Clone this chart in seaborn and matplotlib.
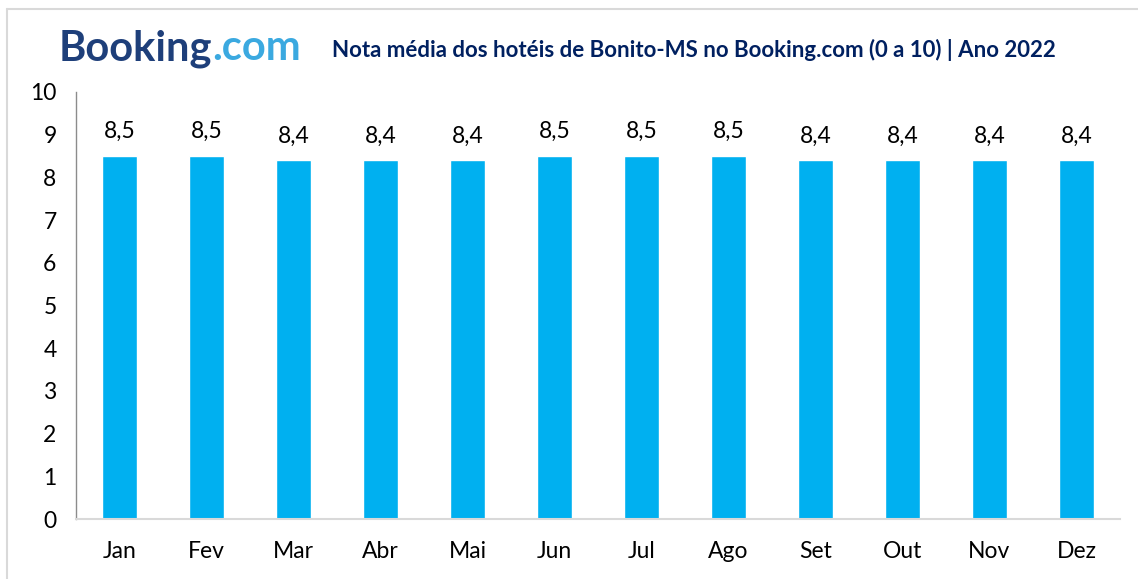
import matplotlib
matplotlib.use("Agg")
import matplotlib.pyplot as plt
import seaborn as sns
import pandas as pd
import numpy as np

months = ["Jan", "Fev", "Mar", "Abr", "Mai", "Jun", "Jul", "Ago", "Set", "Out", "Nov", "Dez"]
scores = [8.5, 8.5, 8.4, 8.4, 8.4, 8.5, 8.5, 8.5, 8.4, 8.4, 8.4, 8.4]
yticks = [0, 1, 2, 3, 4, 5, 6, 7, 8, 9, 10]
title = "Nota média dos hotéis de Bonito-MS no Booking.com (0 a 10) | Ano 2022"

sns.set_theme(style="white")
plt.rcParams['font.family'] = ['Lato', 'DejaVu Sans']

df = pd.DataFrame({"mes": months, "nota": scores})

W, H = 1138, 579
fig = plt.figure(figsize=(W / 100, H / 100), dpi=100)
ax = fig.add_axes([76 / W, 1 - 519 / H, (1120 - 76) / W, (519 - 92) / H])

sns.barplot(data=df, x="mes", y="nota", color="#00B0F0", saturation=1, width=0.41, ax=ax)

ax.set_ylim(0, 10)
ax.set_xlim(-0.5, len(months) - 0.5)
ax.set_yticks(yticks)
ax.set_yticklabels([str(t) for t in yticks], fontsize=16.5)
ax.set_xlabel("")
ax.set_ylabel("")
ax.tick_params(axis="x", length=0, labelsize=16.5, pad=16)
ax.tick_params(axis="y", length=6, width=1, color="#8C8C8C", direction="out", pad=8)
for lbl in ax.get_xticklabels() + ax.get_yticklabels():
    lbl.set_color("black")

# category boundary ticks on x axis
ax.set_xticks(np.arange(-0.5, len(months), 1.0), minor=True)
ax.tick_params(axis="x", which="minor", length=7, width=1.2, color="#D9D9D9", direction="out")

for s in ["top", "right"]:
    ax.spines[s].set_visible(False)
ax.spines["left"].set_color("#8C8C8C")
ax.spines["left"].set_linewidth(1)
ax.spines["bottom"].set_color("#D9D9D9")
ax.spines["bottom"].set_linewidth(1.5)

for i, v in enumerate(scores):
    ax.annotate(f"{v:.1f}".replace(".", ","), (i, v), xytext=(0, 10), textcoords="offset points",
                ha="center", va="bottom", fontsize=16.5, color="black")

# outer border (top and left)
fig.add_artist(plt.Line2D([7 / W, 1.0], [1 - 9 / H, 1 - 9 / H], color="#D9D9D9", linewidth=1.5, transform=fig.transFigure))
fig.add_artist(plt.Line2D([7 / W, 7 / W], [1 - 9 / H, 0.0], color="#D9D9D9", linewidth=1.5, transform=fig.transFigure))

# logo text
t1 = fig.text(59 / W, 1 - 60 / H, "Booking", fontsize=30, fontweight="bold", color="#1E3F7A",
              va="baseline", ha="left")
fig.canvas.draw()
bb = t1.get_window_extent()
fig.text(bb.x1 / fig.bbox.width, 1 - 60 / H, ".com", fontsize=30, fontweight="bold", color="#3BA9E0",
         va="baseline", ha="left")

fig.text(332 / W, 1 - 57 / H, title, fontsize=16, fontweight="bold", color="#002060",
         va="baseline", ha="left")

fig.savefig("out.png", dpi=100, facecolor="white")
